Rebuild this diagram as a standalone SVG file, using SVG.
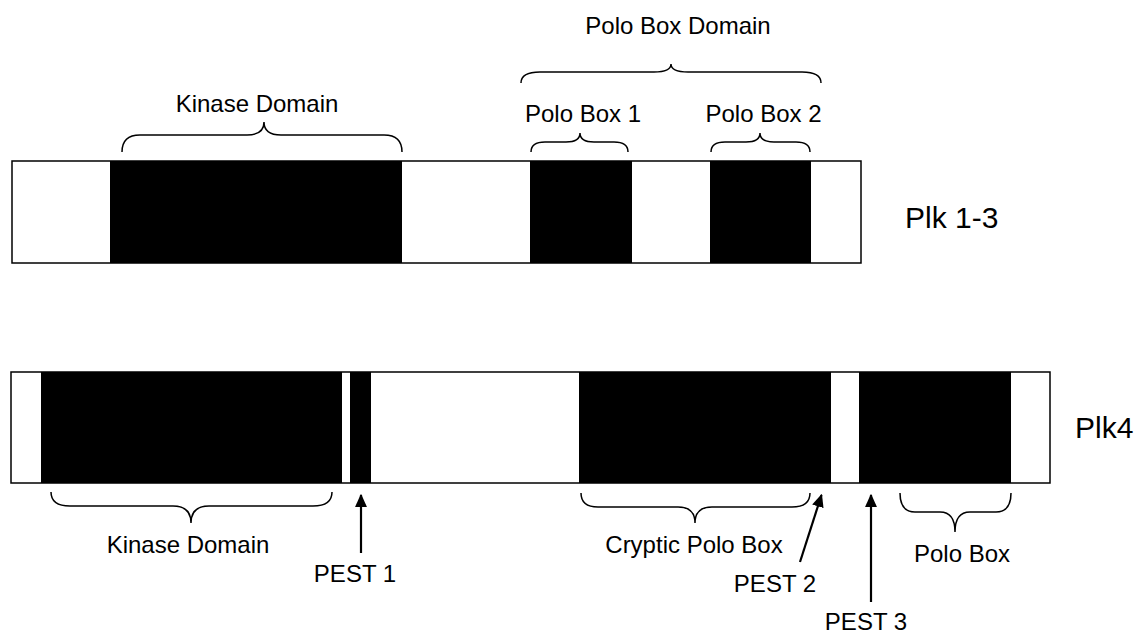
<svg xmlns="http://www.w3.org/2000/svg" width="1142" height="635" viewBox="0 0 1142 635">
<style>
.bar{fill:#fff;stroke:#000;stroke-width:1.5}
.seg{fill:#000}
.lbl{font-family:"Liberation Sans",Arial,sans-serif;font-size:24px;fill:#000;text-anchor:middle}
.big{font-family:"Liberation Sans",Arial,sans-serif;font-size:30px;fill:#000}
.brace{fill:none;stroke:#000;stroke-width:1.5}
.arrow{fill:none;stroke:#000;stroke-width:2.2}
</style>
<defs>
<marker id="ah" viewBox="0 0 10 10" refX="9" refY="5" markerWidth="6" markerHeight="6" markerUnits="strokeWidth" orient="auto">
<path d="M0,0.5 L10,5 L0,9.5 Z" fill="#000"/>
</marker>
</defs>
<rect width="1142" height="635" fill="#fff"/>
<g id="plk13">
<rect class="bar" x="12" y="161" width="849" height="102"/>
<rect class="seg" x="110" y="161" width="292" height="102"/>
<rect class="seg" x="530" y="161" width="102" height="102"/>
<rect class="seg" x="710" y="161" width="101" height="102"/>
<text class="big" x="905" y="228">Plk 1-3</text>
</g>
<g id="plk4">
<rect class="bar" x="11" y="372" width="1039" height="111"/>
<rect class="seg" x="41" y="372" width="301" height="111"/>
<rect class="seg" x="350" y="372" width="21" height="111"/>
<rect class="seg" x="579" y="372" width="252" height="111"/>
<rect class="seg" x="859" y="372" width="152" height="111"/>
<text class="big" x="1075" y="438">Plk4</text>
</g>
<g id="labels">
<text class="lbl" x="257" y="112">Kinase Domain</text>
<text class="lbl" x="678" y="34">Polo Box Domain</text>
<text class="lbl" x="583" y="122">Polo Box 1</text>
<text class="lbl" x="763.5" y="122">Polo Box 2</text>
<text class="lbl" x="188" y="553">Kinase Domain</text>
<text class="lbl" x="355" y="582">PEST 1</text>
<text class="lbl" x="694" y="553">Cryptic Polo Box</text>
<text class="lbl" x="775" y="592">PEST 2</text>
<text class="lbl" x="866" y="630">PEST 3</text>
<text class="lbl" x="962" y="562">Polo Box</text>
</g>
<g id="connectors">
<path class="brace" d="M122,152 Q122,135 140,135 L247,135 Q264,135 264,122 Q264,135 281,135 L384,135 Q402,135 402,152"/>
<path class="brace" d="M521,83 Q521,72 540,72 L654,72 Q671,72 671,64 Q671,72 688,72 L802,72 Q821,72 821,83"/>
<path class="brace" d="M531,152 Q531,142 545,142 L566,142 Q580,142 580,133 Q580,142 594,142 L614,142 Q628,142 628,152"/>
<path class="brace" d="M711,152 Q711,142 725,142 L746,142 Q760,142 760,133 Q760,142 774,142 L796,142 Q810,142 810,152"/>
<path class="brace" d="M51,492 Q51,506 70,506 L173,506 Q191,506 191,523 Q191,506 209,506 L313,506 Q332,506 332,492"/>
<path class="brace" d="M581,493 Q581,507 598,507 L678,507 Q695,507 695,523 Q695,507 712,507 L792,507 Q810,507 810,493"/>
<path class="brace" d="M900,493 Q900,512 915,512 L940,512 Q955,512 955,532 Q955,512 970,512 L996,512 Q1011,512 1011,493"/>
<line class="arrow" x1="361" y1="553" x2="361" y2="495" marker-end="url(#ah)"/>
<line class="arrow" x1="800" y1="562" x2="821.5" y2="495" marker-end="url(#ah)"/>
<line class="arrow" x1="871" y1="602" x2="871" y2="495" marker-end="url(#ah)"/>
</g>
</svg>
